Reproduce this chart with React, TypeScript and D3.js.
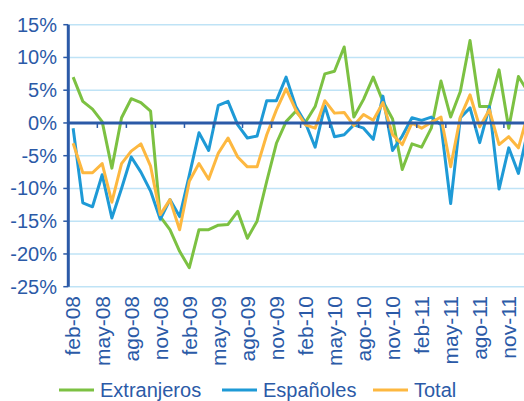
import React from "react";
import * as d3 from "d3";

// months feb-08 .. ene-12 (last one falls just outside the crop)
const months = [
  "feb-08", "mar-08", "abr-08", "may-08", "jun-08", "jul-08", "ago-08", "sep-08", "oct-08", "nov-08", "dic-08",
  "ene-09", "feb-09", "mar-09", "abr-09", "may-09", "jun-09", "jul-09", "ago-09", "sep-09", "oct-09", "nov-09", "dic-09",
  "ene-10", "feb-10", "mar-10", "abr-10", "may-10", "jun-10", "jul-10", "ago-10", "sep-10", "oct-10", "nov-10", "dic-10",
  "ene-11", "feb-11", "mar-11", "abr-11", "may-11", "jun-11", "jul-11", "ago-11", "sep-11", "oct-11", "nov-11", "dic-11",
  "ene-12",
];

const extranjeros = [
  7.0, 3.3, 2.1, 0.2, -6.9, 0.8, 3.7, 3.1, 1.8, -14.3, -16.3, -19.6, -22.1, -16.3, -16.3, -15.6,
  -15.5, -13.5, -17.6, -15.0, -8.9, -3.1, 0.2, 1.8, 0.1, 2.5, 7.5, 7.9, 11.6, 0.9, 3.6, 7.0,
  3.3, 0.6, -7.1, -3.2, -3.7, -0.8, 6.4, 0.9, 4.8, 12.6, 2.5, 2.5, 8.1, -0.8, 7.1, 4.7,
];

const espanoles = [
  -0.8, -12.2, -12.8, -7.9, -14.5, -10.0, -5.2, -7.5, -10.4, -14.7, -11.7, -14.3, -8.0, -1.5, -4.2, 2.7,
  3.3, -0.3, -2.3, -2.0, 3.4, 3.4, 7.0, 2.5, 0.0, -3.7, 2.6, -2.1, -1.8, -0.3, -0.8, -2.5,
  4.1, -4.2, -2.0, 0.8, 0.4, 0.9, -0.3, -12.3, 0.8, 2.3, -3.0, 2.5, -10.1, -3.8, -7.7, -1.0,
];

const total = [
  -3.1, -7.6, -7.6, -6.2, -12.1, -6.2, -4.3, -3.2, -6.6, -14.0, -11.7, -16.3, -8.9, -6.2, -8.6, -4.6,
  -2.3, -5.2, -6.7, -6.7, -1.8, 2.0, 5.2, 2.0, -0.3, -0.8, 3.4, 1.5, 1.6, -0.4, 1.3, 0.4,
  3.1, -1.8, -3.3, 0.0, -0.8, 0.1, 0.9, -6.7, 0.9, 4.3, -0.6, 2.0, -3.3, -2.1, -3.8, 1.5,
];

const yTicks = [15, 10, 5, 0, -5, -10, -15, -20, -25];

const series = [
  { name: "Extranjeros", values: extranjeros, color: "#7cc142" },
  { name: "Españoles", values: espanoles, color: "#1e9ad6" },
  { name: "Total", values: total, color: "#fdb840" },
];

const W = 524;
const H = 401;
const axisColor = "#2b5aa7";
const gridColor = "#bfe3f6";
const font = "'Liberation Sans', Arial, sans-serif";

export default function App() {
  const left = 68.3;
  const step = 9.68;

  const x = d3
    .scaleBand<string>()
    .domain(months)
    .range([left, left + months.length * step])
    .paddingInner(0)
    .paddingOuter(0);

  const y = d3.scaleLinear().domain([-25, 15]).range([286.7, 24.7]);

  const cx = (m: string) => (x(m) as number) + x.bandwidth() / 2;

  const line = d3
    .line<number>()
    .x((_, i) => cx(months[i]))
    .y((d) => y(d));

  const legendItems = [
    { ...series[0], x0: 59 },
    { ...series[1], x0: 222 },
    { ...series[2], x0: 373 },
  ];

  return (
    <div style={{ position: "absolute", left: 0, top: 0 }}>
      <svg width={W} height={H} style={{ display: "block", background: "#fff" }}>
        {/* gridlines */}
        {yTicks.map((t) => (
          <line
            key={"g" + t}
            x1={left}
            x2={W}
            y1={y(t)}
            y2={y(t)}
            stroke={gridColor}
            strokeWidth={1.5}
          />
        ))}

        {/* y labels + ticks */}
        {yTicks.map((t) => (
          <g key={"y" + t}>
            <line x1={left - 5} x2={left} y1={y(t)} y2={y(t)} stroke={axisColor} strokeWidth={1.5} />
            <text
              x={57}
              y={y(t)}
              dy="0.35em"
              textAnchor="end"
              fontFamily={font}
              fontSize={20}
              fill={axisColor}
            >
              {t + "%"}
            </text>
          </g>
        ))}

        {/* series */}
        {series.map((s) => (
          <path
            key={s.name}
            d={line(s.values) || ""}
            fill="none"
            stroke={s.color}
            strokeWidth={3}
            strokeLinejoin="round"
          />
        ))}

        {/* zero line and y axis */}
        <line x1={left} x2={W} y1={y(0)} y2={y(0)} stroke={axisColor} strokeWidth={3} />
        <line x1={left} x2={left} y1={y(15)} y2={y(-25)} stroke={axisColor} strokeWidth={3} />

        {/* x ticks every 3 months */}
        {months.map((m, i) =>
          i % 3 === 0 && i > 0 ? (
            <line
              key={"t" + m}
              x1={x(m) as number}
              x2={x(m) as number}
              y1={y(0)}
              y2={y(0) + 5}
              stroke={axisColor}
              strokeWidth={1.5}
            />
          ) : null
        )}

        {/* x labels */}
        {months.map((m, i) =>
          i % 3 === 0 ? (
            <text
              key={"l" + m}
              transform={`translate(${cx(m)},296) rotate(-90)`}
              dy="0.35em"
              textAnchor="end"
              fontFamily={font}
              fontSize={21}
              fill={axisColor}
            >
              {m}
            </text>
          ) : null
        )}

        {/* legend */}
        {legendItems.map((s) => (
          <g key={"lg" + s.name}>
            <line x1={s.x0} x2={s.x0 + 35} y1={390} y2={390} stroke={s.color} strokeWidth={3} />
            <text
              x={s.x0 + 41}
              y={390}
              dy="0.35em"
              fontFamily={font}
              fontSize={20}
              fill={axisColor}
            >
              {s.name}
            </text>
          </g>
        ))}
      </svg>
    </div>
  );
}
